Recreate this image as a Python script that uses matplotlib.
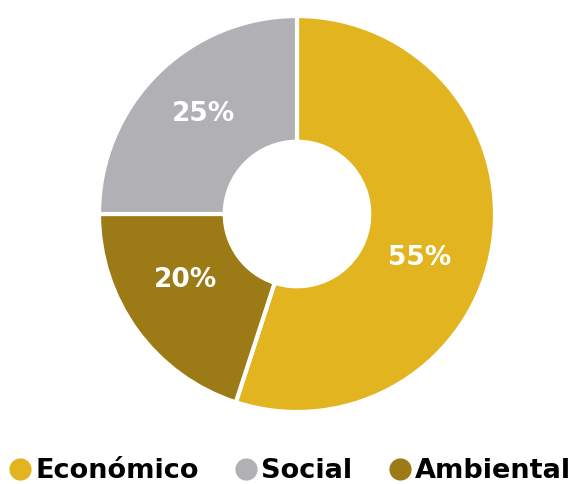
import numpy as np
import matplotlib.pyplot as plt
from matplotlib.lines import Line2D

labels = ["Económico", "Ambiental", "Social"]
values = [55, 20, 25]
colors = ["#E2B41F", "#9C7A15", "#B1B0B5"]
legend_order = ["Económico", "Social", "Ambiental"]

plt.rcParams["font.family"] = ["DejaVu Sans"]

fig = plt.figure(figsize=(5.76, 4.84), dpi=100)
ax = fig.add_axes([99 / 576, 72 / 484, 396 / 576, 396 / 484])

wedges, _, autotexts = ax.pie(
    values,
    colors=colors,
    startangle=90,
    counterclock=False,
    radius=1,
    autopct="%d%%",
    pctdistance=0.67,
    wedgeprops=dict(width=0.635, edgecolor="white", linewidth=3),
    textprops=dict(color="white", fontsize=19, fontweight="bold"),
)
# nudge labels: the big one sits lower in its wedge, all a bit higher
for t, rot in zip(autotexts, [-13, -3, 0]):
    x, y = t.get_position()
    a = np.deg2rad(rot)
    t.set_position((x * np.cos(a) - y * np.sin(a), x * np.sin(a) + y * np.cos(a) + 0.03))

ax.set_xlim(-1, 1)
ax.set_ylim(-1, 1)
ax.set_aspect("equal")
ax.axis("off")

handles = [
    Line2D([], [], marker="o", linestyle="", markersize=16,
           markerfacecolor=colors[labels.index(n)], markeredgecolor="none")
    for n in legend_order
]
fig.legend(
    handles, legend_order,
    loc="center", bbox_to_anchor=(0.5, 1 - 471 / 484),
    ncol=3, frameon=False, handletextpad=0.0, columnspacing=1.2,
    handlelength=1.1, borderaxespad=0,
    prop=dict(size=19.5, weight="bold"),
)

fig.savefig("out.png", dpi=100)
